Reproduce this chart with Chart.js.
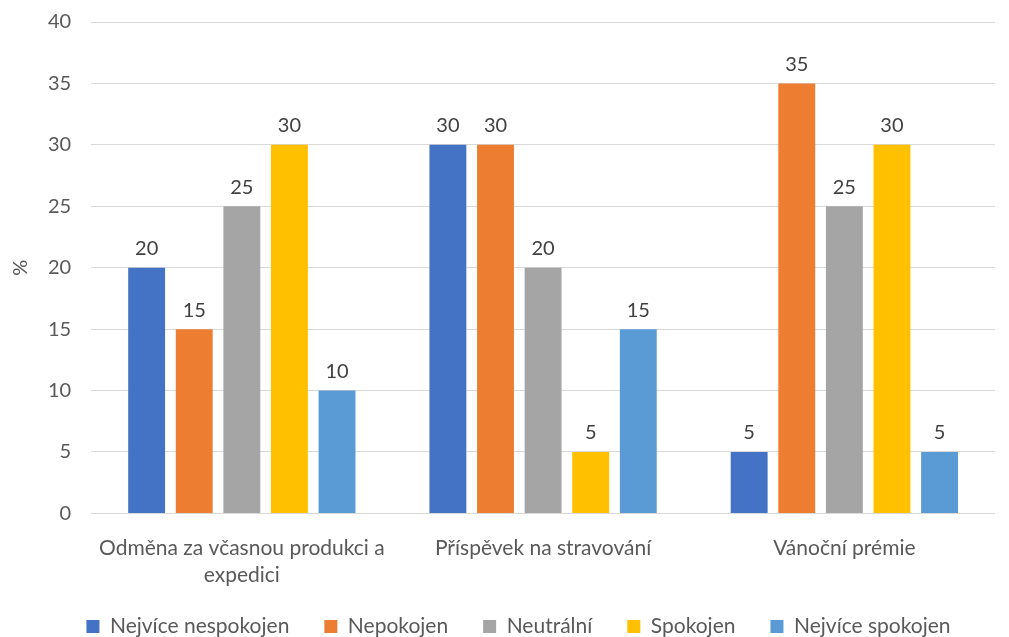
<!DOCTYPE html>
<html>
<head>
<meta charset="utf-8">
<script src="https://cdn.jsdelivr.net/npm/chart.js@4/dist/chart.umd.min.js"></script>
<style>
html,body{margin:0;padding:0;background:#fff;}
#wrap{width:1009px;height:637px;}
</style>
</head>
<body>
<div id="wrap"><canvas id="c" width="1009" height="637"></canvas></div>
<script>
const categories = [["Odměna za včasnou produkci a", "expedici"], "Příspěvek na stravování", "Vánoční prémie"];
const seriesNames = ["Nejvíce nespokojen", "Nepokojen", "Neutrální", "Spokojen", "Nejvíce spokojen"];
const nejviceNespokojen = [20, 30, 5];
const nepokojen = [15, 30, 35];
const neutralni = [25, 20, 25];
const spokojen = [30, 5, 30];
const nejviceSpokojen = [10, 15, 5];
const colors = ["#4472C4", "#ED7D31", "#A5A5A5", "#FFC000", "#5B9BD5"];
const seriesValues = [nejviceNespokojen, nepokojen, neutralni, spokojen, nejviceSpokojen];

const FONT = "Lato, 'Open Sans', sans-serif";
const TEXT = "#595959";

const labelPlugin = {
  id: 'valueLabels',
  afterInit(chart) {
    const lg = chart.legend;
    if (lg) {
      const orig = lg.fit.bind(lg);
      lg.fit = function () { orig(); this.height -= 30; };
    }
  },
  afterLayout(chart) {
    const lg = chart.legend;
    if (lg) {
      lg.left += 21; lg.right += 21;
      lg.top -= 20;
    }
  },
  afterDatasetsDraw(chart) {
    const ctx = chart.ctx;
    ctx.save();
    ctx.font = "20px " + FONT;
    ctx.fillStyle = "#404040";
    ctx.textAlign = "center";
    ctx.textBaseline = "bottom";
    chart.data.datasets.forEach((ds, i) => {
      const meta = chart.getDatasetMeta(i);
      meta.data.forEach((bar, j) => {
        ctx.fillText(String(ds.data[j]), bar.x, bar.y - 9);
      });
    });
    ctx.restore();
  }
};

new Chart(document.getElementById('c'), {
  type: 'bar',
  data: {
    labels: categories,
    datasets: seriesNames.map((n, i) => ({
      label: n,
      data: seriesValues[i],
      backgroundColor: colors[i],
      borderWidth: 0,
      categoryPercentage: 0.79,
      barPercentage: 0.775
    }))
  },
  options: {
    responsive: false,
    animation: false,
    devicePixelRatio: 1,
    layout: { padding: { top: 0, right: 14, left: 0, bottom: 0 } },
    plugins: {
      legend: {
        position: 'bottom',
        labels: {
          boxWidth: 13, boxHeight: 13,
          color: TEXT,
          font: { family: FONT, size: 21 },
          padding: 35
        }
      },
      tooltip: { enabled: false }
    },
    scales: {
      x: {
        grid: { display: false },
        border: { display: false },
        ticks: { color: TEXT, font: { family: FONT, size: 21, lineHeight: 1.3 }, padding: 13, maxRotation: 0 },
        afterFit(scale) { scale.height -= 1; }
      },
      y: {
        min: 0, max: 40,
        ticks: { stepSize: 5, color: TEXT, font: { family: FONT, size: 20 }, padding: 20 },
        grid: { color: "#D9D9D9", lineWidth: 1, drawTicks: false },
        border: { display: false },
        title: { display: true, text: "%", color: TEXT, font: { family: FONT, size: 20 }, padding: { top: 9, bottom: 0 } },
        afterFit(scale) { scale.width -= 5; scale.paddingTop = 22; }
      }
    }
  },
  plugins: [labelPlugin]
});
</script>
</body>
</html>
